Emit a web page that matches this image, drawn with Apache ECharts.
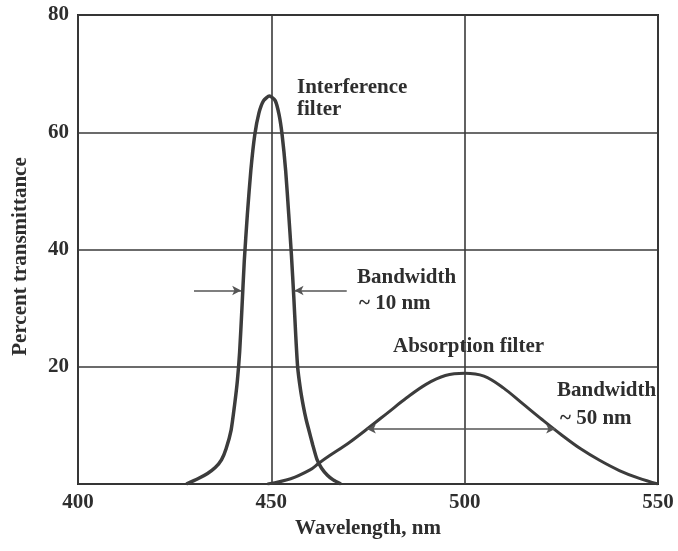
<!DOCTYPE html>
<html>
<head>
<meta charset="utf-8">
<script src="https://cdn.jsdelivr.net/npm/echarts@6/dist/echarts.min.js"></script>
<style>
  html, body { margin: 0; padding: 0; background: #fff; }
  #chart { width: 678px; height: 551px; }
</style>
</head>
<body>
<div id="chart"></div>
<script>
// wavelength (nm), percent transmittance
const interferenceX = [428, 431, 433.5, 435.5, 437.1, 438.3, 439.6, 440.5, 441.2, 441.8, 442.4, 443, 443.8, 444.7, 445.7, 446.8, 448, 449.5, 451, 452, 452.8, 453.7, 454.5, 455.2, 455.8, 456.3, 456.8, 457.5, 458.3, 459, 459.7, 460.7, 461.8, 463, 464.5, 466, 468];
const interferenceY = [0, 0.9, 1.8, 2.8, 4.1, 6.0, 9.2, 13.5, 17.5, 22.5, 30, 38, 46, 53.5, 59.5, 63.3, 65.4, 66.2, 65.4, 63, 59.5, 53.5, 46, 39, 32, 25.5, 20, 16.3, 13.2, 11, 9.2, 6.7, 4.2, 2.7, 1.5, 0.7, 0];

const absorptionX = [449, 455, 460, 462.2, 465, 470, 475, 480, 485, 490, 495, 500, 505, 510, 515, 520, 525, 530, 535, 540, 545, 550];
const absorptionY = [0, 0.9, 2.4, 3.5, 4.8, 7.0, 9.5, 12.1, 14.7, 17.0, 18.5, 18.9, 18.4, 16.4, 13.7, 11.0, 8.4, 6.0, 4.0, 2.3, 1.0, 0];

const xTicks = [400, 450, 500, 550];
const yTicks = [20, 40, 60, 80];

// bandwidth arrows: [fromX, toX, atY]
const bwLeft = [430, 442.2, 33];
const bwRight = [469.5, 456, 33];
const bwAbs = [474.7, 523.4, 9.4];

const pairs = (xs, ys) => xs.map((x, i) => [x, ys[i]]);
const seg = a => [{ coord: [a[0], a[2]] }, { coord: [a[1], a[2]] }];

const font = "'Liberation Serif', 'Times New Roman', serif";
const ink = '#2e2e2e';
const labelFont = "bold 21px " + font;

const chart = echarts.init(document.getElementById('chart'));

chart.setOption({
  animation: false,
  backgroundColor: '#fff',
  grid: {
    left: 78, right: 20, top: 15, bottom: 67,
    show: true, borderColor: '#2a2a2a', borderWidth: 2
  },
  xAxis: {
    type: 'value',
    min: 400, max: 550, interval: 50,
    name: 'Wavelength, nm',
    nameLocation: 'middle',
    nameGap: 31,
    nameTextStyle: { fontFamily: font, fontSize: 21, fontWeight: 'bold', color: ink },
    axisLine: { show: false },
    axisTick: { show: false },
    axisLabel: {
      margin: 8,
      fontFamily: font, fontSize: 21, fontWeight: 'bold', color: ink,
      formatter: v => xTicks.includes(v) ? String(v) : ''
    },
    splitLine: { show: true, lineStyle: { color: '#3a3a3a', width: 1.6 } }
  },
  yAxis: {
    type: 'value',
    min: 0, max: 80, interval: 20,
    name: 'Percent transmittance',
    nameLocation: 'middle',
    nameGap: 47,
    nameRotate: 90,
    nameTextStyle: { fontFamily: font, fontSize: 21, fontWeight: 'bold', color: ink, padding: [0, 14, 0, 0] },
    axisLine: { show: false },
    axisTick: { show: false },
    axisLabel: {
      margin: 9,
      fontFamily: font, fontSize: 21, fontWeight: 'bold', color: ink,
      formatter: v => yTicks.includes(v) ? String(v) : ''
    },
    splitLine: { show: true, lineStyle: { color: '#3a3a3a', width: 1.6 } }
  },
  series: [
    {
      name: 'Interference filter',
      type: 'line',
      data: pairs(interferenceX, interferenceY),
      smooth: 0.2,
      showSymbol: false,
      lineStyle: { color: '#3c3c3c', width: 3.5 },
      markLine: {
        silent: true,
        symbol: ['none', 'arrow'],
        symbolSize: [7, 9],
        label: { show: false },
        lineStyle: { color: '#555', width: 1.5, type: 'solid' },
        data: [seg(bwLeft), seg(bwRight)]
      }
    },
    {
      name: 'Absorption filter',
      type: 'line',
      data: pairs(absorptionX, absorptionY),
      smooth: 0.35,
      showSymbol: false,
      lineStyle: { color: '#3c3c3c', width: 3 },
      markLine: {
        silent: true,
        symbol: ['arrow', 'arrow'],
        symbolSize: [7, 9],
        label: { show: false },
        lineStyle: { color: '#555', width: 1.5, type: 'solid' },
        data: [seg(bwAbs)]
      }
    }
  ],
  graphic: [
    { type: 'text', left: 297, top: 77, style: { text: 'Interference\nfilter', lineHeight: 22, font: labelFont, fill: ink } },
    { type: 'text', left: 357, top: 267, style: { text: 'Bandwidth', font: labelFont, fill: ink } },
    { type: 'text', left: 359, top: 293, style: { text: '~ 10 nm', font: labelFont, fill: ink } },
    { type: 'text', left: 393, top: 336, style: { text: 'Absorption filter', font: labelFont, fill: ink } },
    { type: 'text', left: 557, top: 380, style: { text: 'Bandwidth', font: labelFont, fill: ink } },
    { type: 'text', left: 560, top: 408, style: { text: '~ 50 nm', font: labelFont, fill: ink } }
  ]
});
</script>
</body>
</html>
